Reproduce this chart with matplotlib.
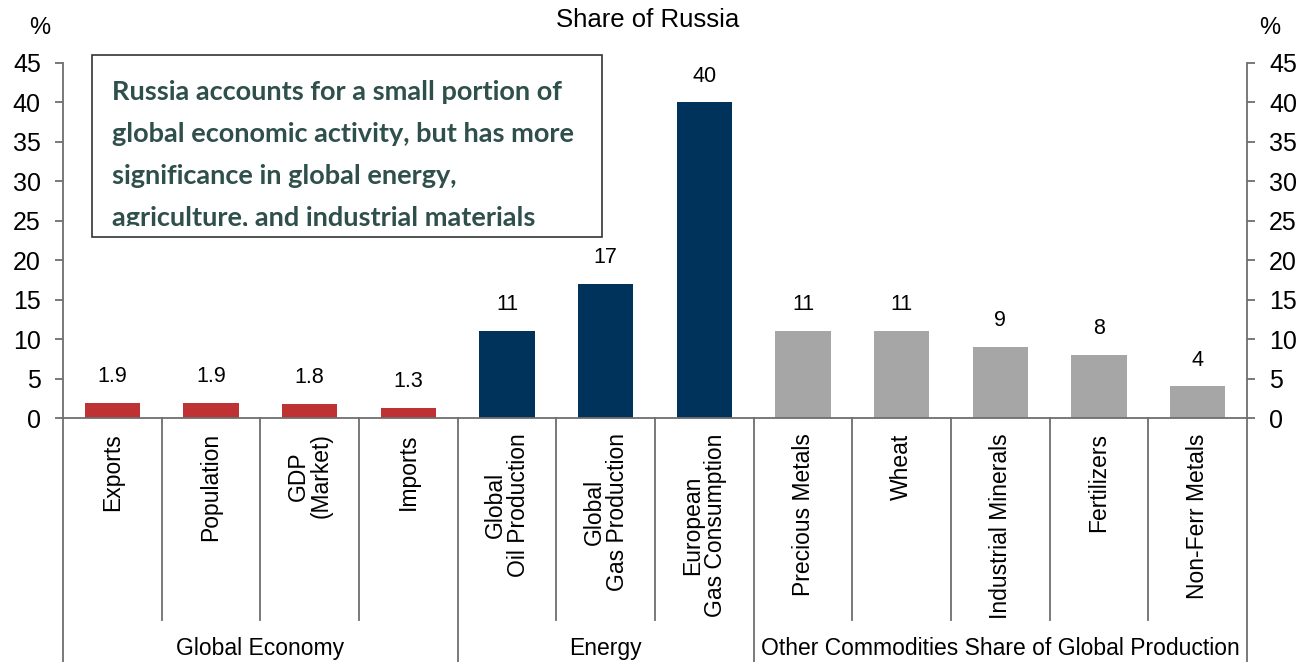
import matplotlib.pyplot as plt
from matplotlib.patches import Rectangle

# data
categories = ['Exports', 'Population', 'GDP\n(Market)', 'Imports',
              'Global\nOil Production', 'Global\nGas Production', 'European\nGas Consumption',
              'Precious Metals', 'Wheat', 'Industrial Minerals', 'Fertilizers', 'Non-Ferr Metals']
values = [1.9, 1.9, 1.8, 1.3, 11, 17, 40, 11, 11, 9, 8, 4]
value_labels = ['1.9', '1.9', '1.8', '1.3', '11', '17', '40', '11', '11', '9', '8', '4']
groups = ['Global Economy', 'Energy', 'Other Commodities Share of Global Production']
group_sizes = [4, 3, 5]
group_colors = ['#BE3234', '#00335C', '#A6A6A6']

plt.rcParams['font.family'] = ['Liberation Sans', 'DejaVu Sans']
W, H = 1309, 662
fig = plt.figure(figsize=(W / 100, H / 100), dpi=100)
ax = fig.add_axes([63 / W, 1 - 418 / H, (1247 - 63) / W, (418 - 63) / H])

colors = []
for c, n in zip(group_colors, group_sizes):
    colors += [c] * n
x = list(range(len(categories)))
bars = ax.bar(x, values, width=0.56, color=colors)
for b, lab in zip(bars, value_labels):
    ax.annotate(lab, (b.get_x() + b.get_width() / 2, b.get_height()),
                xytext=(0, 19), textcoords='offset points',
                ha='center', va='center', fontsize=15.5)

ax.set_xlim(-0.5, len(categories) - 0.5)
ax.set_ylim(0, 45)
ax.set_yticks(range(0, 46, 5))
spine_col = '#6E6E6E'
for s in ['left', 'right', 'bottom']:
    ax.spines[s].set_color(spine_col)
    ax.spines[s].set_linewidth(1.3)
ax.spines['top'].set_visible(False)
ax.tick_params(axis='y', direction='out', length=6, width=1.3, color=spine_col,
               labelsize=18, right=True, labelright=True, pad=10)
ax.set_xticks(x)
ax.set_xticklabels(categories, rotation=90, fontsize=16.5)
for t in ax.get_xticklabels():
    t.set_linespacing(1.0)
ax.tick_params(axis='x', length=0, pad=11)

# separators under the axis
trans = ax.get_xaxis_transform()
bounds = [0]
for n in group_sizes:
    bounds.append(bounds[-1] + n)
for i in range(len(categories) + 1):
    bottom = -0.7 if i in bounds else -0.57
    ax.plot([i - 0.5, i - 0.5], [0, bottom], transform=trans, color=spine_col,
            lw=1.3, clip_on=False)
for g, a, b in zip(groups, bounds[:-1], bounds[1:]):
    ax.text((a + b - 1) / 2, -0.648, g, transform=trans, ha='center', va='center',
            fontsize=16.5)

fig.text(648 / W, 1 - 20 / H, 'Share of Russia', ha='center', va='center', fontsize=18.5)
fig.text(40 / W, 1 - 28 / H, '%', ha='center', va='center', fontsize=17)
fig.text(1270 / W, 1 - 28 / H, '%', ha='center', va='center', fontsize=17)

# annotation box, last line cut at its baseline like the original
box = Rectangle((92 / W, 1 - 237 / H), 510 / W, 182 / H, transform=fig.transFigure,
                facecolor='white', edgecolor='#333333', lw=1.2, zorder=5)
fig.patches.append(box)
clip = Rectangle((92 / W, 1 - 226 / H), 510 / W, 171 / H, transform=fig.transFigure,
                 facecolor='none', edgecolor='none')
fig.patches.append(clip)
note = ['Russia accounts for a small portion of',
        'global economic activity, but has more',
        'significance in global energy,',
        'agriculture, and industrial materials']
for i, line in enumerate(note):
    t = fig.text(112 / W, 1 - (99.5 + 42 * i) / H, line, ha='left', va='baseline',
                 fontsize=19.5, fontweight='bold', color='#2F4F4B',
                 family=['Lato', 'DejaVu Sans'], zorder=6)
    t.set_clip_path(clip)

fig.savefig('out.png', dpi=100)
